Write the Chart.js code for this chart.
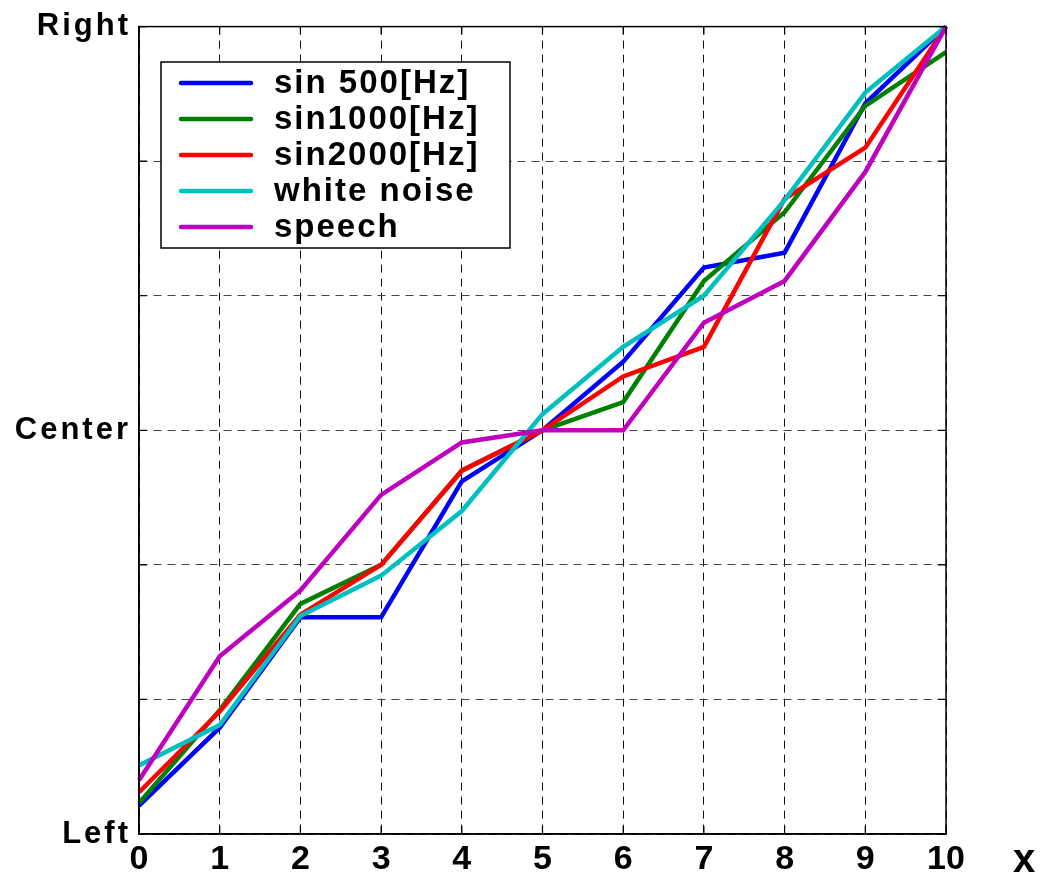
<!DOCTYPE html>
<html>
<head>
<meta charset="utf-8">
<script src="https://cdn.jsdelivr.net/npm/chart.js@4.4.1/dist/chart.umd.min.js"></script>
<style>
  html, body { margin: 0; padding: 0; background: #fff; }
  #wrap { width: 1043px; height: 878px; }
</style>
</head>
<body>
<div id="wrap"><canvas id="c" width="1043" height="878"></canvas></div>
<script>
// x positions
const xs = [0, 1, 2, 3, 4, 5, 6, 7, 8, 9, 10];
// y tick labels (-3 = Left, 0 = Center, 3 = Right)
const yTickLabels = { "-3": "Left", "0": "Center", "3": "Right" };
const seriesNames = ["sin 500[Hz]", "sin1000[Hz]", "sin2000[Hz]", "white noise", "speech"];
const sin500   = [-2.79, -2.21, -1.39, -1.39, -0.38, 0.00, 0.51, 1.21, 1.32, 2.43, 3.00];
const sin1000  = [-2.77, -2.08, -1.29, -1.00, -0.30, 0.00, 0.21, 1.11, 1.62, 2.41, 2.81];
const sin2000  = [-2.69, -2.09, -1.37, -1.00, -0.30, 0.00, 0.40, 0.62, 1.72, 2.10, 3.00];
const noise    = [-2.49, -2.19, -1.38, -1.08, -0.60, 0.12, 0.62, 1.00, 1.71, 2.51, 3.00];
const speech   = [-2.60, -1.68, -1.19, -0.48, -0.09, 0.00, 0.00, 0.80, 1.11, 1.92, 3.00];
const seriesValues = [sin500, sin1000, sin2000, noise, speech];
const seriesColors = ["#0000ff", "#008000", "#ff0000", "#00bfbf", "#bf00bf"];

const FONT = "'Liberation Sans', Arial, sans-serif";

const datasets = seriesValues.map((vals, i) => ({
  label: seriesNames[i],
  data: xs.map((x, j) => ({ x: x, y: vals[j] })),
  borderColor: seriesColors[i],
  backgroundColor: seriesColors[i],
  borderWidth: 4.5,
  pointRadius: 0,
  tension: 0,
  fill: false,
  clip: false,
  order: seriesValues.length - i
}));

const framePlugin = {
  id: 'frame',
  afterDatasetsDraw(chart) {
    const ctx = chart.ctx;
    const a = chart.chartArea;
    const xS = chart.scales.x, yS = chart.scales.y;
    ctx.save();
    ctx.strokeStyle = '#000';
    ctx.lineWidth = 1.5;
    ctx.setLineDash([]);
    ctx.strokeRect(a.left, a.top, a.right - a.left, a.bottom - a.top);
    ctx.lineWidth = 1.2;
    const tl = 8;
    for (let v = -3; v <= 3; v++) {
      const y = yS.getPixelForValue(v);
      ctx.beginPath();
      ctx.moveTo(a.left, y); ctx.lineTo(a.left + tl, y);
      ctx.moveTo(a.right, y); ctx.lineTo(a.right - tl, y);
      ctx.stroke();
    }
    for (let v = 0; v <= 10; v++) {
      const x = xS.getPixelForValue(v);
      ctx.beginPath();
      ctx.moveTo(x, a.top); ctx.lineTo(x, a.top + tl);
      ctx.moveTo(x, a.bottom); ctx.lineTo(x, a.bottom - tl);
      ctx.stroke();
    }
    // legend box
    const bx = 161, by = 62, bw = 349, bh = 186;
    ctx.fillStyle = '#fff';
    ctx.fillRect(bx, by, bw, bh);
    ctx.strokeStyle = '#000';
    ctx.lineWidth = 1.5;
    ctx.strokeRect(bx, by, bw, bh);
    ctx.font = 'bold 33px ' + FONT;
    ctx.textBaseline = 'middle';
    ctx.textAlign = 'left';
    if ('letterSpacing' in ctx) ctx.letterSpacing = '2px';
    chart.data.datasets.forEach((ds, i) => {
      const y = 83 + i * 36;
      ctx.strokeStyle = ds.borderColor;
      ctx.lineWidth = 4.5;
      ctx.lineCap = 'round';
      ctx.beginPath();
      ctx.moveTo(181, y); ctx.lineTo(251, y);
      ctx.stroke();
      ctx.fillStyle = '#000';
      ctx.fillText(ds.label, 274, y + 1);
    });
    if ('letterSpacing' in ctx) ctx.letterSpacing = '0px';
    ctx.font = 'bold 40px ' + FONT;
    ctx.fillStyle = '#000';
    ctx.textAlign = 'center';
    ctx.textBaseline = 'alphabetic';
    ctx.fillText('x', 1024, 872);
    ctx.restore();
  }
};

new Chart(document.getElementById('c'), {
  type: 'line',
  data: { datasets: datasets },
  options: {
    responsive: false,
    animation: false,
    events: [],
    layout: { padding: { top: 26, right: 97, bottom: 0, left: 0 } },
    plugins: { legend: { display: false }, tooltip: { enabled: false } },
    scales: {
      x: {
        type: 'linear',
        min: 0, max: 10,
        afterFit(s) { s.height = 44; },
        ticks: {
          stepSize: 1,
          color: '#000',
          padding: 5,
          font: { family: FONT, size: 34, weight: 'bold' },
          maxRotation: 0
        },
        grid: { color: '#111', lineWidth: 1, drawTicks: false },
        border: { display: true, color: '#000', width: 1.5, dash: [8, 6] }
      },
      y: {
        type: 'linear',
        min: -3, max: 3,
        afterFit(s) {
          s.width = 139;
          if (!s._lsWrapped) {
            const orig = s.drawLabels;
            s.drawLabels = function (area) {
              const ctx = this.ctx;
              ctx.save();
              if ('letterSpacing' in ctx) ctx.letterSpacing = '3px';
              orig.call(this, area);
              ctx.restore();
            };
            s._lsWrapped = true;
          }
        },
        ticks: {
          stepSize: 1,
          color: '#000',
          padding: 8,
          autoSkip: false,
          font: { family: FONT, size: 31, weight: 'bold' },
          callback: (v) => (yTickLabels[String(v)] !== undefined ? yTickLabels[String(v)] : '')
        },
        grid: { color: '#444', lineWidth: 1, drawTicks: false },
        border: { display: true, color: '#000', width: 1.5, dash: [8, 6] }
      }
    }
  },
  plugins: [framePlugin]
});
</script>
</body>
</html>
